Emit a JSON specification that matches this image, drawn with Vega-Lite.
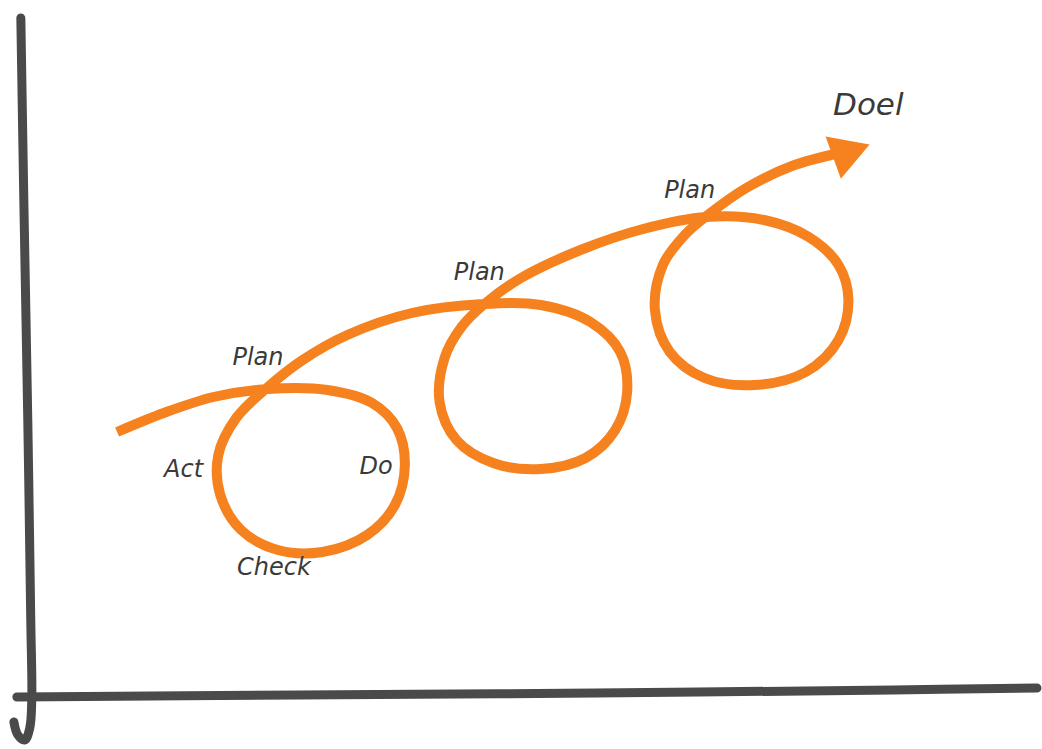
{
  "$schema": "https://vega.github.io/schema/vega-lite/v6.json",
  "width": 1042,
  "height": 749,
  "autosize": {"type": "fit", "contains": "padding"},
  "padding": 0,
  "background": "white",
  "config": {"view": {"stroke": null}},
  "datasets": {
    "axes": [
      {"s": "v", "i": 1, "x": 21, "y": 18},
      {"s": "v", "i": 2, "x": 24, "y": 200},
      {"s": "v", "i": 3, "x": 28, "y": 420},
      {"s": "v", "i": 4, "x": 31, "y": 620},
      {"s": "v", "i": 5, "x": 32, "y": 700},
      {"s": "v", "i": 6, "x": 30, "y": 728},
      {"s": "v", "i": 7, "x": 25, "y": 740},
      {"s": "v", "i": 8, "x": 18, "y": 735},
      {"s": "v", "i": 9, "x": 14, "y": 722},
      {"s": "h", "i": 1, "x": 17, "y": 697},
      {"s": "h", "i": 2, "x": 300, "y": 695},
      {"s": "h", "i": 3, "x": 600, "y": 693},
      {"s": "h", "i": 4, "x": 900, "y": 690},
      {"s": "h", "i": 5, "x": 1045, "y": 688}
    ],
    "spiral": [
      {"i": 1, "x": 118, "y": 432},
      {"i": 2, "x": 165, "y": 413},
      {"i": 3, "x": 215, "y": 397},
      {"i": 4, "x": 270, "y": 389},
      {"i": 5, "x": 330, "y": 390},
      {"i": 6, "x": 375, "y": 403},
      {"i": 7, "x": 400, "y": 428},
      {"i": 8, "x": 408, "y": 465},
      {"i": 9, "x": 398, "y": 505},
      {"i": 10, "x": 370, "y": 535},
      {"i": 11, "x": 325, "y": 552},
      {"i": 12, "x": 280, "y": 550},
      {"i": 13, "x": 243, "y": 530},
      {"i": 14, "x": 222, "y": 495},
      {"i": 15, "x": 220, "y": 455},
      {"i": 16, "x": 238, "y": 418},
      {"i": 17, "x": 270, "y": 387},
      {"i": 18, "x": 305, "y": 360},
      {"i": 19, "x": 350, "y": 335},
      {"i": 20, "x": 415, "y": 313},
      {"i": 21, "x": 487, "y": 304},
      {"i": 22, "x": 545, "y": 305},
      {"i": 23, "x": 595, "y": 322},
      {"i": 24, "x": 625, "y": 352},
      {"i": 25, "x": 632, "y": 392},
      {"i": 26, "x": 620, "y": 430},
      {"i": 27, "x": 590, "y": 458},
      {"i": 28, "x": 545, "y": 469},
      {"i": 29, "x": 497, "y": 463},
      {"i": 30, "x": 460, "y": 440},
      {"i": 31, "x": 443, "y": 402},
      {"i": 32, "x": 448, "y": 358},
      {"i": 33, "x": 465, "y": 327},
      {"i": 34, "x": 487, "y": 305},
      {"i": 35, "x": 525, "y": 278},
      {"i": 36, "x": 585, "y": 250},
      {"i": 37, "x": 648, "y": 229},
      {"i": 38, "x": 712, "y": 217},
      {"i": 39, "x": 770, "y": 220},
      {"i": 40, "x": 815, "y": 237},
      {"i": 41, "x": 845, "y": 265},
      {"i": 42, "x": 855, "y": 300},
      {"i": 43, "x": 845, "y": 340},
      {"i": 44, "x": 812, "y": 372},
      {"i": 45, "x": 760, "y": 385},
      {"i": 46, "x": 710, "y": 378},
      {"i": 47, "x": 675, "y": 352},
      {"i": 48, "x": 660, "y": 310},
      {"i": 49, "x": 668, "y": 265},
      {"i": 50, "x": 690, "y": 235},
      {"i": 51, "x": 712, "y": 216},
      {"i": 52, "x": 752, "y": 188},
      {"i": 53, "x": 798, "y": 166},
      {"i": 54, "x": 846, "y": 153}
    ],
    "arrow": [{"x": 858, "y": 151}],
    "labels": [
      {"t": "Plan", "x": 260, "y": 358, "sz": 24},
      {"t": "Act", "x": 185, "y": 470, "sz": 24},
      {"t": "Do", "x": 379, "y": 467, "sz": 24},
      {"t": "Check", "x": 276, "y": 568, "sz": 24},
      {"t": "Plan", "x": 483, "y": 273, "sz": 24},
      {"t": "Plan", "x": 695, "y": 191, "sz": 24},
      {"t": "Doel", "x": 875, "y": 106, "sz": 31}
    ]
  },
  "encoding": {
    "x": {"field": "x", "type": "quantitative", "axis": null, "scale": {"domain": [0, 1042], "nice": false, "zero": false}},
    "y": {"field": "y", "type": "quantitative", "axis": null, "scale": {"domain": [0, 749], "nice": false, "zero": false, "reverse": true}}
  },
  "layer": [
    {
      "data": {"name": "axes"},
      "mark": {"type": "line", "interpolate": "catmull-rom", "color": "#4a4a4a", "strokeWidth": 9, "strokeCap": "round", "strokeJoin": "round", "clip": false},
      "encoding": {
        "detail": {"field": "s"},
        "order": {"field": "i", "type": "quantitative"}
      }
    },
    {
      "data": {"name": "spiral"},
      "mark": {"type": "line", "interpolate": "catmull-rom", "color": "#F5821F", "strokeWidth": 10, "strokeCap": "butt", "strokeJoin": "round"},
      "encoding": {
        "order": {"field": "i", "type": "quantitative"}
      }
    },
    {
      "data": {"name": "arrow"},
      "mark": {"type": "point", "shape": "triangle-right", "filled": true, "color": "#F5821F", "opacity": 1, "size": 2000, "angle": -20}
    },
    {
      "data": {"name": "labels"},
      "mark": {"type": "text", "font": "DejaVu Sans", "fontStyle": "italic", "color": "#3a3a3a", "align": "center", "baseline": "middle"},
      "encoding": {
        "text": {"field": "t"},
        "size": {"field": "sz", "type": "quantitative", "scale": null}
      }
    }
  ]
}
